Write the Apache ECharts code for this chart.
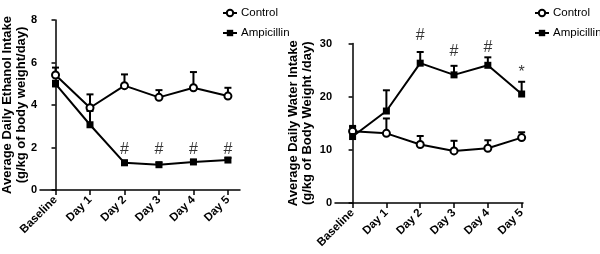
<!DOCTYPE html>
<html>
<head>
<meta charset="utf-8">
<script src="https://cdn.jsdelivr.net/npm/echarts@6/dist/echarts.min.js"></script>
<style>
  html, body { margin: 0; padding: 0; background: #fff; }
  #chart { width: 600px; height: 254px; }
</style>
</head>
<body>
<div id="chart"></div>
<script>
// categories (x positions are 0..5)
const categories = ['Baseline', 'Day 1', 'Day 2', 'Day 3', 'Day 4', 'Day 5'];

// left panel: ethanol intake (mean, SEM)
const ethanolControl = [5.41, 3.87, 4.91, 4.36, 4.81, 4.42];
const ethanolControlSem = [0.35, 0.63, 0.53, 0.34, 0.74, 0.39];
const ethanolAmp = [4.99, 3.07, 1.28, 1.19, 1.32, 1.41];
const ethanolAmpSem = [0.15, 0.65, 0.1, 0.1, 0.1, 0.1];
const ethanolMarks = ['', '', '#', '#', '#', '#'];
const ethanolMarkY = [0, 0, 1.88, 1.88, 1.88, 1.88];

// right panel: water intake (mean, SEM)
const waterControl = [13.5, 13.1, 11.0, 9.8, 10.3, 12.3];
const waterControlSem = [1.0, 2.8, 1.6, 1.9, 1.5, 1.0];
const waterAmp = [12.5, 17.3, 26.3, 24.1, 25.9, 20.5];
const waterAmpSem = [1.8, 3.9, 2.1, 1.7, 1.5, 2.3];
const waterMarks = ['', '', '#', '#', '#', '*'];
const waterMarkY = [0, 0, 31.4, 28.5, 29.2, 24.6];

const idx = categories.map((c, i) => i);
const pairs = vals => vals.map((v, i) => [i, v]);
const errData = (vals, sem) => vals.map((v, i) => [i, v, v + sem[i]]);
const markData = (marks, ys) => marks.map((m, i) => [i, ys[i], m]).filter(d => d[2] !== '');

const font = 'Liberation Sans, Arial, sans-serif';

function renderErr(params, api) {
    const p0 = api.coord([api.value(0), api.value(1)]);
    const p1 = api.coord([api.value(0), api.value(2)]);
    return {
        type: 'group',
        children: [
            { type: 'line', shape: { x1: p0[0], y1: p0[1], x2: p1[0], y2: p1[1] }, style: { stroke: '#000', lineWidth: 2 } },
            { type: 'line', shape: { x1: p1[0] - 3.5, y1: p1[1], x2: p1[0] + 3.5, y2: p1[1] }, style: { stroke: '#000', lineWidth: 2 } }
        ]
    };
}

function xAxis(gridIndex, min, max) {
    return {
        type: 'value', gridIndex: gridIndex, min: min, max: max,
        splitLine: { show: false },
        axisLine: { show: true, lineStyle: { color: '#000', width: 1.5 } },
        axisTick: { show: true, customValues: idx, length: 5, lineStyle: { color: '#000', width: 1.5 } },
        axisLabel: {
            customValues: idx, rotate: 45, margin: 8,
            formatter: v => categories[v],
            color: '#000', fontFamily: font, fontWeight: 'bold', fontSize: 11.5
        }
    };
}

function yAxis(gridIndex, max, interval, name, gap) {
    return {
        type: 'value', gridIndex: gridIndex, min: 0, max: max, interval: interval,
        name: name, nameLocation: 'middle', nameRotate: 90, nameGap: gap, nameMoveOverlap: false,
        nameTextStyle: { color: '#000', fontFamily: font, fontWeight: 'bold', fontSize: 13, lineHeight: 14 },
        splitLine: { show: false },
        axisLine: { show: true, lineStyle: { color: '#000', width: 1.5 } },
        axisTick: { show: true, length: 4, lineStyle: { color: '#000', width: 1.5 } },
        axisLabel: { color: '#000', fontFamily: font, fontWeight: 'bold', fontSize: 11, margin: 3 }
    };
}

function lineSeries(name, data, axis, circle) {
    return {
        name: name, type: 'line', data: data, xAxisIndex: axis, yAxisIndex: axis,
        symbol: circle ? 'circle' : 'rect', symbolSize: 7,
        lineStyle: { color: '#000', width: 2 },
        itemStyle: circle ? { color: '#fff', borderColor: '#000', borderWidth: 2 } : { color: '#000' },
        z: 3, animation: false
    };
}

function errSeries(data, axis) {
    return {
        type: 'custom', renderItem: renderErr, data: data,
        xAxisIndex: axis, yAxisIndex: axis, z: 2, animation: false, silent: true
    };
}

function markSeries(data, axis) {
    return {
        type: 'scatter', data: data, xAxisIndex: axis, yAxisIndex: axis,
        symbolSize: 1, itemStyle: { color: 'rgba(0,0,0,0)' }, clip: false, animation: false,
        label: {
            show: true, position: 'inside', formatter: p => p.value[2],
            color: '#000', fontFamily: font, fontSize: 16
        }
    };
}

function legend(left) {
    return {
        left: left, top: 2, orient: 'vertical', itemWidth: 14, itemHeight: 8, itemGap: 8,
        data: ['Control', 'Ampicillin'],
        textStyle: { color: '#000', fontFamily: font, fontSize: 11.5, padding: [0, 0, 0, -1] }
    };
}

const chart = echarts.init(document.getElementById('chart'));
const option = {
    backgroundColor: '#fff',
    animation: false,
    grid: [
        { left: 40, top: 20, width: 200, height: 170, outerBoundsMode: 'none' },
        { left: 335, top: 43.5, width: 188, height: 159.5, outerBoundsMode: 'none' }
    ],
    legend: [legend(217), legend(529)],
    xAxis: [xAxis(0, -0.45, 5.35), xAxis(1, -0.52, 5.04)],
    yAxis: [
        yAxis(0, 8, 2, 'Average Daily Ethanol Intake\n(g/kg of body weight/day)', 12),
        yAxis(1, 30, 10, 'Average Daily Water Intake\n(g/kg of Body Weight /day)', 21)
    ],
    series: [
        errSeries(errData(ethanolControl, ethanolControlSem), 0),
        errSeries(errData(ethanolAmp, ethanolAmpSem), 0),
        lineSeries('Control', pairs(ethanolControl), 0, true),
        lineSeries('Ampicillin', pairs(ethanolAmp), 0, false),
        markSeries(markData(ethanolMarks, ethanolMarkY), 0),
        errSeries(errData(waterControl, waterControlSem), 1),
        errSeries(errData(waterAmp, waterAmpSem), 1),
        lineSeries('Control', pairs(waterControl), 1, true),
        lineSeries('Ampicillin', pairs(waterAmp), 1, false),
        markSeries(markData(waterMarks, waterMarkY), 1)
    ]
};
chart.setOption(option);
</script>
</body>
</html>
